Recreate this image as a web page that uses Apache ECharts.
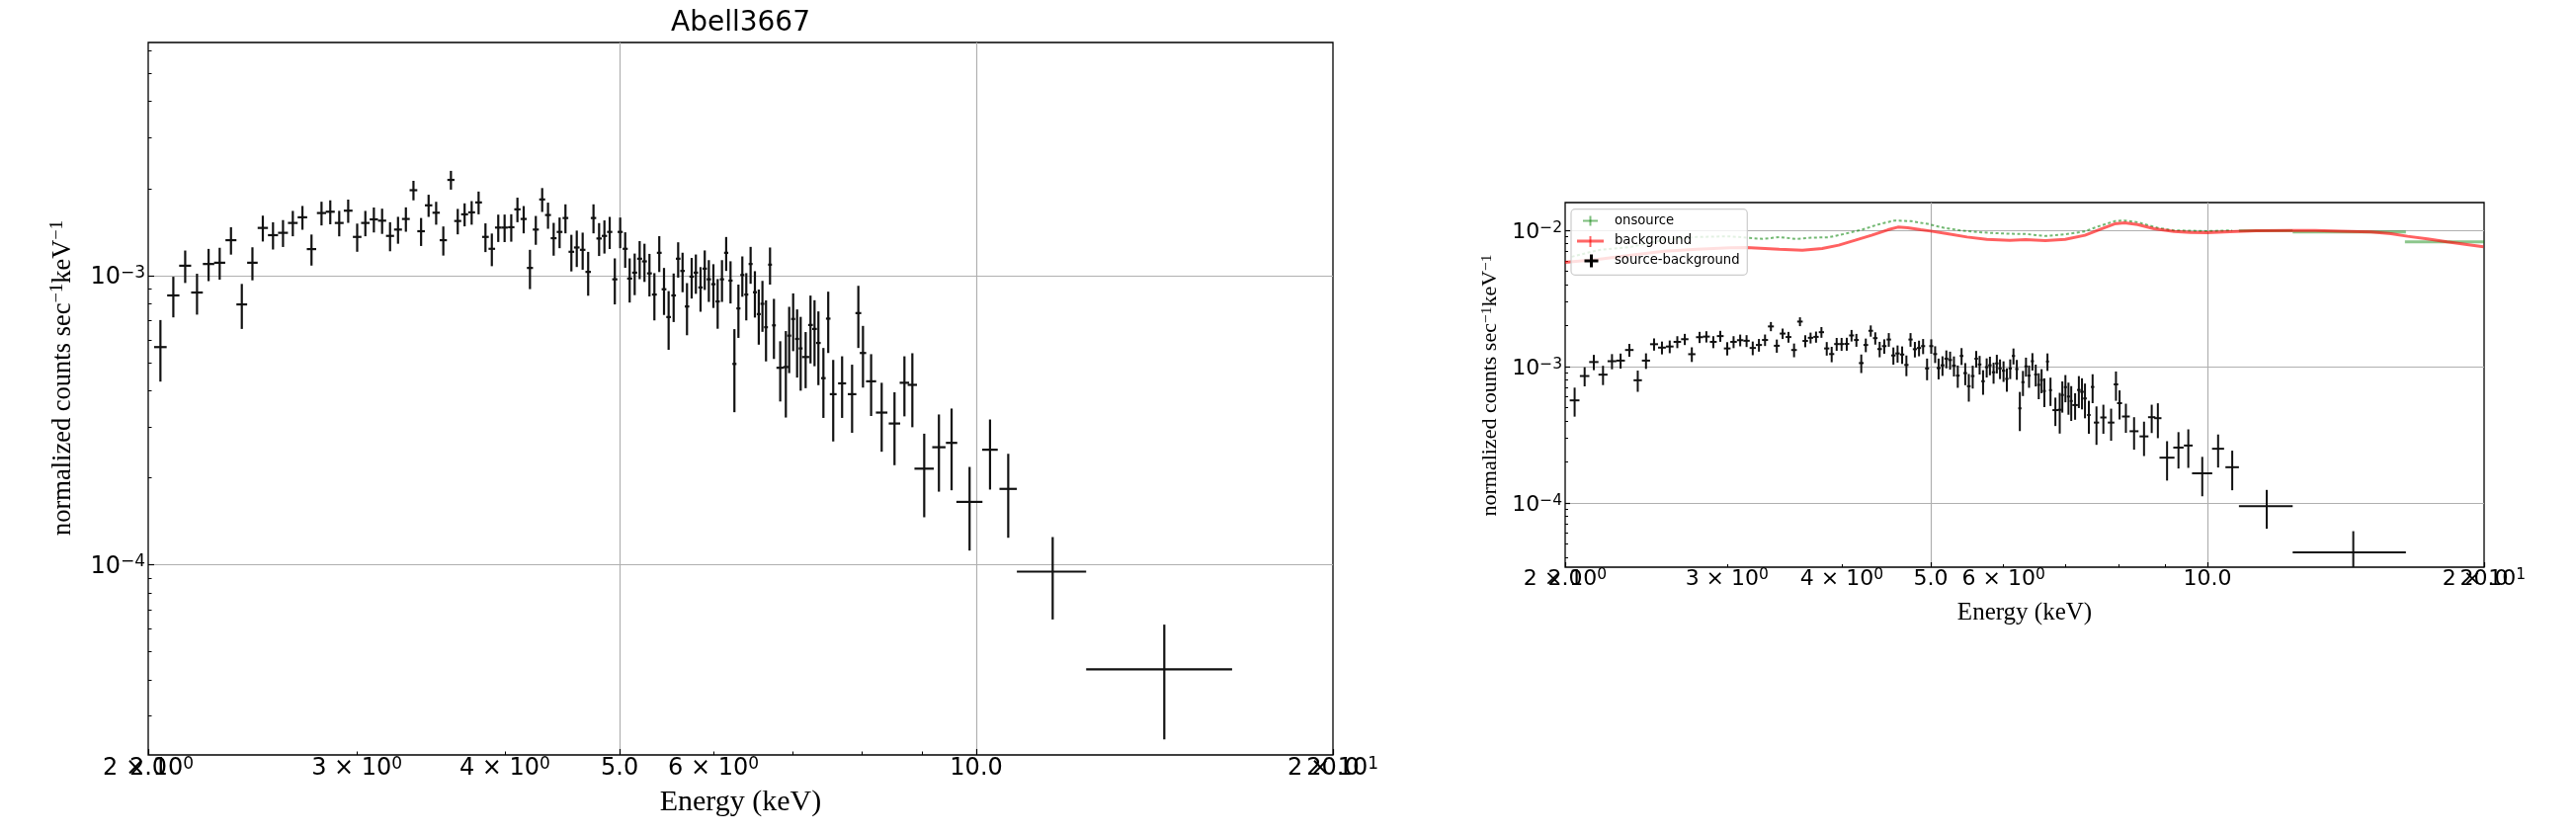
<!DOCTYPE html>
<html>
<head>
<meta charset="utf-8">
<script src="https://cdn.jsdelivr.net/npm/echarts@6/dist/echarts.min.js"></script>
<style>
html,body{margin:0;padding:0;background:#ffffff;}
#chart{width:2607px;height:843px;}
</style>
</head>
<body>
<div id="chart"></div>
<script>
// ---------------- data ----------------
// source - background spectrum (keV, counts s^-1 keV^-1)
const energy = [
2.048,2.100,2.149,2.199,2.249,2.298,2.349,2.399,2.449,2.499,
2.549,2.599,2.649,2.699,2.747,2.801,2.849,2.899,2.950,3.002,
3.050,3.101,3.151,3.200,3.250,3.300,3.349,3.399,3.449,3.500,
3.549,3.602,3.650,3.699,3.750,3.801,3.852,3.900,3.949,3.998,
4.050,4.099,4.149,4.200,4.248,4.301,4.350,4.398,4.449,4.500,
4.552,4.600,4.653,4.703,4.752,4.804,4.854,4.904,4.953,5.005,
5.054,5.098,5.148,5.198,5.247,5.298,5.349,5.400,5.450,5.499,
5.553,5.602,5.650,5.699,5.751,5.798,5.851,5.899,5.946,5.999,
6.049,6.100,6.150,6.202,6.249,6.298,6.346,6.395,6.449,6.503,
6.552,6.599,6.645,6.697,6.748,6.831,6.906,6.951,7.005,7.059,
7.108,7.177,7.245,7.302,7.357,7.429,7.499,7.572,7.704,7.855,
7.951,8.023,8.151,8.320,8.530,8.696,8.831,9.037,9.299,9.531,
9.870,10.27,10.64,11.60,14.41];
const energyErr = [
0.025,0.025,0.025,0.025,0.025,0.025,0.025,0.025,0.025,0.025,
0.025,0.025,0.025,0.025,0.025,0.025,0.025,0.025,0.025,0.025,
0.025,0.025,0.025,0.025,0.025,0.025,0.025,0.025,0.025,0.025,
0.025,0.025,0.025,0.025,0.025,0.025,0.025,0.025,0.025,0.025,
0.025,0.025,0.025,0.025,0.025,0.025,0.025,0.025,0.025,0.025,
0.025,0.025,0.025,0.025,0.025,0.025,0.025,0.025,0.025,0.025,
0.025,0.025,0.025,0.025,0.025,0.025,0.025,0.025,0.025,0.025,
0.025,0.025,0.025,0.025,0.025,0.025,0.025,0.025,0.025,0.025,
0.025,0.025,0.025,0.025,0.025,0.025,0.025,0.025,0.025,0.025,
0.025,0.025,0.025,0.025,0.025,0.05,0.035,0.027,0.027,0.027,
0.027,0.05,0.033,0.033,0.033,0.033,0.033,0.05,0.06,0.065,
0.045,0.05,0.08,0.093,0.095,0.08,0.08,0.17,0.12,0.105,
0.25,0.155,0.18,0.78,2.03];
const rate = [
5.66e-4,8.54e-4,1.082e-3,8.74e-4,1.097e-3,1.108e-3,1.326e-3,7.95e-4,1.108e-3,1.462e-3,
1.380e-3,1.406e-3,1.521e-3,1.591e-3,1.235e-3,1.646e-3,1.663e-3,1.521e-3,1.677e-3,1.361e-3,
1.521e-3,1.565e-3,1.549e-3,1.372e-3,1.443e-3,1.570e-3,1.974e-3,1.424e-3,1.750e-3,1.650e-3,
1.326e-3,2.143e-3,1.545e-3,1.629e-3,1.655e-3,1.791e-3,1.361e-3,1.238e-3,1.466e-3,1.466e-3,
1.470e-3,1.695e-3,1.570e-3,1.063e-3,1.443e-3,1.834e-3,1.620e-3,1.347e-3,1.416e-3,1.582e-3,
1.209e-3,1.251e-3,1.228e-3,1.030e-3,1.582e-3,1.344e-3,1.372e-3,1.416e-3,9.71e-4,1.416e-3,
1.238e-3,9.77e-4,1.024e-3,1.144e-3,1.120e-3,1.018e-3,8.60e-4,1.199e-3,8.97e-4,7.19e-4,
8.54e-4,1.144e-3,1.038e-3,7.82e-4,9.92e-4,1.024e-3,9.10e-4,1.057e-3,9.71e-4,9.34e-4,
8.14e-4,9.71e-4,1.199e-3,9.61e-4,4.95e-4,7.70e-4,1.005e-3,8.60e-4,1.097e-3,8.76e-4,
7.36e-4,7.99e-4,6.63e-4,1.091e-3,6.73e-4,4.80e-4,4.83e-4,6.20e-4,7.08e-4,6.04e-4,
5.60e-4,5.23e-4,6.75e-4,6.54e-4,5.85e-4,4.42e-4,7.10e-4,3.89e-4,4.24e-4,3.89e-4,
7.42e-4,5.40e-4,4.31e-4,3.36e-4,3.08e-4,4.26e-4,4.19e-4,2.15e-4,2.55e-4,2.64e-4,
1.65e-4,2.50e-4,1.83e-4,9.47e-5,4.35e-5];
const rateErr = [
1.36e-4,1.37e-4,1.39e-4,1.41e-4,1.40e-4,1.40e-4,1.44e-4,1.41e-4,1.45e-4,1.50e-4,
1.49e-4,1.50e-4,1.53e-4,1.50e-4,1.52e-4,1.55e-4,1.58e-4,1.54e-4,1.55e-4,1.52e-4,
1.53e-4,1.55e-4,1.55e-4,1.58e-4,1.54e-4,1.52e-4,1.53e-4,1.58e-4,1.54e-4,1.50e-4,
1.53e-4,1.60e-4,1.56e-4,1.49e-4,1.55e-4,1.62e-4,1.55e-4,1.60e-4,1.59e-4,1.60e-4,
1.60e-4,1.65e-4,1.70e-4,1.65e-4,1.65e-4,1.74e-4,1.68e-4,1.75e-4,1.72e-4,1.82e-4,
1.75e-4,1.80e-4,1.80e-4,1.78e-4,1.82e-4,1.75e-4,1.80e-4,1.80e-4,1.76e-4,1.72e-4,
1.74e-4,1.70e-4,1.68e-4,1.72e-4,1.69e-4,1.71e-4,1.60e-4,1.70e-4,1.66e-4,1.65e-4,
1.63e-4,1.60e-4,1.62e-4,1.60e-4,1.59e-4,1.59e-4,1.60e-4,1.65e-4,1.60e-4,1.61e-4,
1.59e-4,1.60e-4,1.61e-4,1.60e-4,1.58e-4,1.61e-4,1.60e-4,1.60e-4,1.60e-4,1.60e-4,
1.59e-4,1.60e-4,1.58e-4,1.60e-4,1.58e-4,1.13e-4,1.60e-4,1.60e-4,1.60e-4,1.60e-4,
1.60e-4,1.15e-4,1.78e-4,1.68e-4,1.67e-4,1.20e-4,1.70e-4,1.22e-4,1.02e-4,1.03e-4,
1.80e-4,1.30e-4,1.04e-4,9.0e-5,8.7e-5,1.00e-4,1.20e-4,6.9e-5,7.6e-5,8.3e-5,
5.3e-5,6.8e-5,5.9e-5,3.0e-5,1.86e-5];

// background spectrum (right panel, red)
const bgEnergy = [2.000,2.171,2.359,2.562,2.782,3.022,3.149,3.420,3.624,3.808,
3.969,4.136,4.309,4.491,4.604,4.719,4.877,4.999,5.210,5.475,
5.753,6.094,6.340,6.661,7.000,7.355,7.667,7.923,8.123,8.395,
8.751,9.194,9.581,9.985,10.58,11.30,12.27,13.10,13.99,15.07,
15.84,16.51,17.35,18.23,19.16,19.97];
const bgRate = [5.82e-3,6.12e-3,6.57e-3,7.04e-3,7.28e-3,7.44e-3,7.49e-3,7.28e-3,7.16e-3,7.36e-3,
7.79e-3,8.46e-3,9.20e-3,1.010e-2,1.057e-2,1.044e-2,1.010e-2,9.88e-3,9.45e-3,8.94e-3,
8.60e-3,8.46e-3,8.55e-3,8.41e-3,8.60e-3,9.20e-3,1.027e-2,1.116e-2,1.135e-2,1.105e-2,
1.027e-2,9.83e-3,9.67e-3,9.61e-3,9.77e-3,9.93e-3,1.000e-2,1.000e-2,9.88e-3,9.72e-3,
9.45e-3,9.05e-3,8.65e-3,8.23e-3,7.87e-3,7.57e-3];

// on-source spectrum (right panel, green)
const onEnergy = [2.033,2.170,2.359,2.562,2.782,3.022,3.149,3.282,3.420,3.565,
3.715,3.872,4.035,4.204,4.382,4.566,4.758,4.959,5.167,5.385,
5.611,5.848,6.094,6.350,6.661,7.000,7.355,7.604,7.923,8.123,
8.395,8.823,9.194,9.985,10.64];
const onRate = [6.40e-3,7.16e-3,7.57e-3,8.55e-3,8.94e-3,9.05e-3,8.84e-3,8.65e-3,8.94e-3,8.65e-3,
8.84e-3,8.90e-3,9.45e-3,1.010e-2,1.105e-2,1.182e-2,1.168e-2,1.116e-2,1.044e-2,1.000e-2,
9.72e-3,9.56e-3,9.45e-3,9.40e-3,9.09e-3,9.35e-3,9.83e-3,1.069e-2,1.168e-2,1.182e-2,
1.148e-2,1.044e-2,1.000e-2,9.88e-3,1.000e-2];
const onBinEnergy = [11.60,14.41,18.30];
const onBinEnergyErr = [0.78,2.03,1.90];
const onBinRate = [9.95e-3,9.72e-3,8.23e-3];
const onBinRateErr = [0,0,0];

// axis ticks and labels
const xRange = [2, 20];
const xGridTicks = [5, 10];
const xMajorTicks = [2, 5, 10, 20];
const xMajorLabels = ['2.0', '5.0', '10.0', '20.0'];
const xMinorTicks = [2, 3, 4, 6, 7, 8, 9, 20];
const xMinorLabelPos = [2, 3, 4, 6, 20];
const xMinorLabelMant = ['2', '3', '4', '6', '2'];
const xMinorLabelExp = ['0', '0', '0', '0', '1'];
const yMajorTicks = [1e-5, 1e-4, 1e-3, 1e-2];
const yMajorExp = ['\u22125', '\u22124', '\u22123', '\u22122'];
const yMinorTicks = [2e-5,3e-5,4e-5,5e-5,6e-5,7e-5,8e-5,9e-5,
  2e-4,3e-4,4e-4,5e-4,6e-4,7e-4,8e-4,9e-4,
  2e-3,3e-3,4e-3,5e-3,6e-3,7e-3,8e-3,9e-3];
const leftYRange = [2.2e-5, 6.4e-3];
const rightYRange = [3.38e-5, 1.6e-2];

// ---------------- chart construction ----------------
const L10 = Math.log10;
const TICK_FONT = 'DejaVu Sans';
const SERIF = 'Liberation Serif';

function nearestIdx(arr, v) {
  const e = Math.pow(10, v);
  let best = 0, bd = Infinity;
  arr.forEach((t, i) => { const d = Math.abs(L10(t) - L10(e)); if (d < bd) { bd = d; best = i; } });
  return best;
}

function tickRich(fs, sfs, lh, slh) {
  return {
    n: { fontFamily: TICK_FONT, fontSize: fs, lineHeight: lh, color: '#000' },
    s: { fontFamily: TICK_FONT, fontSize: sfs, lineHeight: slh, verticalAlign: 'top', color: '#000' }
  };
}

function buildAxes(g, st) {
  const gw = st.grid.width, gh = st.grid.height;
  const yr = st.yRange;
  const xmin = L10(xRange[0]) - 1e-9, xmax = L10(xRange[1]) + 1e-9;
  const ymin = L10(yr[0]), ymax = L10(yr[1]);
  const inY = t => t >= yr[0] && t <= yr[1];
  const base = { type: 'value', gridIndex: g, axisLine: { show: false }, splitLine: { show: false },
    axisLabel: { show: false }, axisTick: { show: false } };
  const xAxes = [
    { type: 'log', logBase: 10, gridIndex: g, min: xRange[0], max: xRange[1], show: false },
    Object.assign({}, base, { min: xmin, max: xmax, position: 'bottom',
      axisTick: { show: true, inside: true, length: gh, customValues: xGridTicks.map(L10),
        lineStyle: { color: '#b0b0b0', width: 1.2 } } }),
    Object.assign({}, base, { min: xmin, max: xmax, position: 'bottom',
      axisTick: { show: true, inside: true, length: st.major, customValues: xMajorTicks.map(L10),
        lineStyle: { color: '#000', width: 1.2 } },
      axisLabel: { show: true, customValues: xMajorTicks.map(L10), margin: st.xMargin,
        showMinLabel: true, showMaxLabel: true,
        formatter: v => '{n|' + xMajorLabels[nearestIdx(xMajorTicks, v)] + '}',
        rich: tickRich(st.fs, st.sfs, st.lh, st.xSupLh) } }),
    Object.assign({}, base, { min: xmin, max: xmax, position: 'bottom',
      axisTick: { show: true, inside: true, length: st.minor, customValues: xMinorTicks.map(L10),
        lineStyle: { color: '#000', width: 1 } },
      axisLabel: { show: true, customValues: xMinorLabelPos.map(L10), margin: st.xMargin,
        showMinLabel: true, showMaxLabel: true,
        formatter: v => { const i = nearestIdx(xMinorLabelPos, v);
          return '{n|' + xMinorLabelMant[i] + ' \u00d7 10}{s|' + xMinorLabelExp[i] + '}'; },
        rich: tickRich(st.fs, st.sfs, st.lh, st.xSupLh) } })
  ];
  const yMaj = yMajorTicks.filter(inY);
  const yAxes = [
    { type: 'log', logBase: 10, gridIndex: g, min: yr[0], max: yr[1], show: false },
    Object.assign({}, base, { min: ymin, max: ymax, position: 'left',
      axisTick: { show: true, inside: true, length: gw, customValues: yMaj.map(L10),
        lineStyle: { color: '#b0b0b0', width: 1.2 } } }),
    Object.assign({}, base, { min: ymin, max: ymax, position: 'left',
      axisTick: { show: true, inside: true, length: st.major, customValues: yMaj.map(L10),
        lineStyle: { color: '#000', width: 1.2 } },
      axisLabel: { show: true, customValues: yMaj.map(L10), margin: st.yMargin, padding: [st.yPad, 0, 0, 0],
        showMinLabel: true, showMaxLabel: true,
        formatter: v => '{n|10}{s|' + yMajorExp[nearestIdx(yMajorTicks, v)] + '}',
        rich: tickRich(st.fs, st.sfs, st.lh, st.ySupLh) } }),
    Object.assign({}, base, { min: ymin, max: ymax, position: 'left',
      axisTick: { show: true, inside: true, length: st.minor, customValues: yMinorTicks.filter(inY).map(L10),
        lineStyle: { color: '#000', width: 1 } } })
  ];
  return { xAxes, yAxes };
}

function errRenderer(color, lw) {
  return function (params, api) {
    const E = api.value(0), v = api.value(1), dx = api.value(2), dy = api.value(3);
    const l = api.coord([E - dx, v]), r = api.coord([E + dx, v]);
    const t = api.coord([E, v + dy]), b = api.coord([E, Math.max(v - dy, 1e-12)]);
    const st = { stroke: color, lineWidth: lw };
    return { type: 'group', children: [
      { type: 'line', shape: { x1: l[0], y1: l[1], x2: r[0], y2: r[1] }, style: st },
      { type: 'line', shape: { x1: t[0], y1: t[1], x2: b[0], y2: b[1] }, style: st }
    ] };
  };
}

const leftSt = { grid: { left: 150, top: 43, width: 1199, height: 721 }, yRange: leftYRange,
  fs: 24, sfs: 17, lh: 26, xSupLh: 12, ySupLh: 7, major: 6, minor: 3.5, xMargin: 1, yMargin: 3, yPad: 4 };
const rightSt = { grid: { left: 1584, top: 205, width: 930, height: 369 }, yRange: rightYRange,
  fs: 22, sfs: 15.5, lh: 24, xSupLh: 13, ySupLh: 11, major: 5, minor: 3, xMargin: 0, yMargin: 3, yPad: 4 };

const A0 = buildAxes(0, leftSt), A1 = buildAxes(1, rightSt);
const srcData = energy.map((e, i) => [e, rate[i], energyErr[i], rateErr[i]]);
const onBinData = onBinEnergy.map((e, i) => [e, onBinRate[i], onBinEnergyErr[i], onBinRateErr[i]]);

const gridStyle = { show: true, borderColor: '#000', borderWidth: 1.3, backgroundColor: 'rgba(0,0,0,0)',
  containLabel: false, outerBoundsMode: 'none' };

function yLabelText() {
  return '{a|normalized counts sec}{b|\u22121}{a|keV}{b|\u22121}';
}

const option = {
  backgroundColor: '#ffffff',
  animation: false,
  grid: [Object.assign({}, gridStyle, leftSt.grid), Object.assign({}, gridStyle, rightSt.grid)],
  xAxis: A0.xAxes.concat(A1.xAxes),
  yAxis: A0.yAxes.concat(A1.yAxes),
  series: [
    { name: 'source-background', type: 'custom', xAxisIndex: 0, yAxisIndex: 0, clip: true,
      encode: { x: 0, y: 1 }, itemStyle: { color: '#000' }, silent: true,
      renderItem: errRenderer('#111111', 2.2), data: srcData },
    { name: 'onsource', type: 'line', xAxisIndex: 4, yAxisIndex: 4, showSymbol: false, silent: true,
      clip: true, data: onEnergy.map((e, i) => [e, onRate[i]]),
      lineStyle: { color: 'rgba(0,128,0,0.55)', width: 2, type: [3, 2.5] }, itemStyle: { color: 'rgba(0,128,0,0.55)' } },
    { name: 'onsource', type: 'custom', xAxisIndex: 4, yAxisIndex: 4, clip: true, silent: true,
      encode: { x: 0, y: 1 }, itemStyle: { color: 'rgba(0,128,0,0.45)' },
      renderItem: errRenderer('rgba(0,128,0,0.45)', 3), data: onBinData },
    { name: 'background', type: 'line', xAxisIndex: 4, yAxisIndex: 4, showSymbol: false, silent: true,
      clip: true, data: bgEnergy.map((e, i) => [e, bgRate[i]]),
      lineStyle: { color: 'rgba(255,0,0,0.62)', width: 3 }, itemStyle: { color: 'rgba(255,0,0,0.62)' } },
    { name: 'source-background', type: 'custom', xAxisIndex: 4, yAxisIndex: 4, clip: true, silent: true,
      encode: { x: 0, y: 1 }, itemStyle: { color: '#000' },
      renderItem: errRenderer('#111111', 2.0), data: srcData }
  ],
  graphic: [
    { type: 'text', x: 749.5, y: 24, z: 100, style: { text: 'Abell3667', fill: '#000',
      font: 'normal 28px "DejaVu Sans"', align: 'center', verticalAlign: 'middle' } },
    { type: 'text', x: 749.5, y: 812.5, z: 100, style: { text: 'Energy (keV)', fill: '#000',
      font: 'normal 30px "Liberation Serif"', align: 'center', verticalAlign: 'middle' } },
    { type: 'text', x: 2049, y: 620, z: 100, style: { text: 'Energy (keV)', fill: '#000',
      font: 'normal 25px "Liberation Serif"', align: 'center', verticalAlign: 'middle' } },
    { type: 'text', x: 64, y: 382.5, rotation: Math.PI / 2, z: 100, style: { text: yLabelText(),
      align: 'center', verticalAlign: 'middle', fill: '#000',
      rich: { a: { fontFamily: SERIF, fontSize: 26.5, lineHeight: 30, fill: '#000', color: '#000' },
              b: { fontFamily: SERIF, fontSize: 18.5, lineHeight: 11, verticalAlign: 'top', fill: '#000', color: '#000' } } } },
    { type: 'text', x: 1508.6, y: 390, rotation: Math.PI / 2, z: 100, style: { text: yLabelText(),
      align: 'center', verticalAlign: 'middle', fill: '#000',
      rich: { a: { fontFamily: SERIF, fontSize: 22, lineHeight: 24, fill: '#000', color: '#000' },
              b: { fontFamily: SERIF, fontSize: 15.5, lineHeight: 7, verticalAlign: 'top', fill: '#000', color: '#000' } } } },
    // legend of the right panel
    { type: 'rect', z: 100, shape: { x: 1590, y: 211.7, width: 178.3, height: 66.6, r: 4 },
      style: { fill: 'rgba(255,255,255,0.8)', stroke: '#cccccc', lineWidth: 1.2 } },
    { type: 'line', z: 101, shape: { x1: 1602, y1: 223.5, x2: 1617, y2: 223.5 }, style: { stroke: 'rgba(0,128,0,0.5)', lineWidth: 2 } },
    { type: 'line', z: 101, shape: { x1: 1609.5, y1: 218.5, x2: 1609.5, y2: 228.5 }, style: { stroke: 'rgba(0,128,0,0.5)', lineWidth: 2 } },
    { type: 'line', z: 101, shape: { x1: 1596, y1: 244, x2: 1623, y2: 244 }, style: { stroke: 'rgba(255,0,0,0.6)', lineWidth: 3 } },
    { type: 'line', z: 101, shape: { x1: 1609.5, y1: 239, x2: 1609.5, y2: 250 }, style: { stroke: 'rgba(255,0,0,0.6)', lineWidth: 2 } },
    { type: 'line', z: 101, shape: { x1: 1603.5, y1: 264, x2: 1617.5, y2: 264 }, style: { stroke: '#000', lineWidth: 3 } },
    { type: 'line', z: 101, shape: { x1: 1610.5, y1: 257.5, x2: 1610.5, y2: 270.5 }, style: { stroke: '#000', lineWidth: 3 } },
    { type: 'text', x: 1634, y: 223.3, z: 101, style: { text: 'onsource', fill: '#000', font: 'normal 13.2px "DejaVu Sans"', verticalAlign: 'middle' } },
    { type: 'text', x: 1634, y: 244, z: 101, style: { text: 'background', fill: '#000', font: 'normal 13.2px "DejaVu Sans"', verticalAlign: 'middle' } },
    { type: 'text', x: 1634, y: 264, z: 101, style: { text: 'source-background', fill: '#000', font: 'normal 13.2px "DejaVu Sans"', verticalAlign: 'middle' } }
  ]
};

const chart = echarts.init(document.getElementById('chart'), null, { renderer: 'canvas' });
chart.setOption(option);
</script>
</body>
</html>
